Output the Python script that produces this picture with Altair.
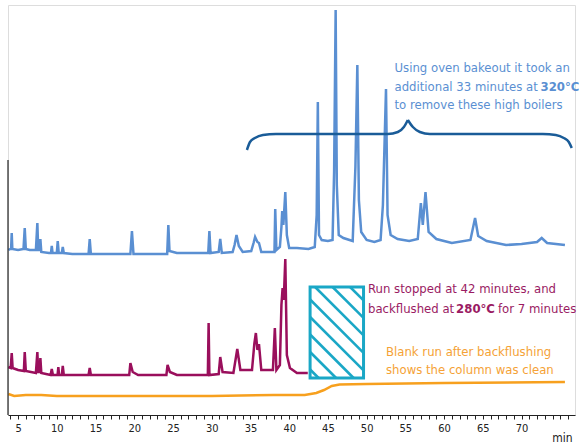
import altair as alt
import pandas as pd

# ---------------- data ----------------
# retention time (min) and detector signal (arbitrary units, chart scale)
blue_t = [3.75, 4.0, 4.1, 4.18, 4.26, 5.0, 5.7, 5.86, 6.0, 6.5, 7.3, 7.49, 7.6, 7.8, 7.88, 8.0,
          9.0, 9.25, 9.35, 9.45, 10.0, 10.12, 10.25, 10.65, 10.77, 10.9, 12.0, 14.1, 14.25, 14.4,
          19.5, 19.7, 19.9, 24.25, 24.4, 24.55, 25.5, 29.55, 29.7, 29.85, 30.9, 31.1, 31.3,
          32.7, 32.95, 33.2, 33.5, 34.0, 35.1, 35.4, 35.6, 35.9, 36.1, 36.4, 37.9, 38.1, 38.2,
          38.35, 38.8, 39.0, 39.1, 39.25, 39.5, 39.7, 40.0, 41.0, 42.5, 43.3, 43.55, 43.7, 43.85,
          44.2, 45.0, 45.6, 45.8, 46.0, 46.15, 46.4, 47.0, 48.2, 48.55, 48.8, 49.0, 49.3, 50.0,
          51.0, 51.8, 52.1, 52.5, 52.7, 53.1, 54.0, 55.5, 56.6, 57.0, 57.25, 57.6, 58.0, 59.0,
          61.0, 63.4, 64.0, 64.4, 65.5, 68.0, 70.0, 72.0, 72.6, 73.3, 75.6]
blue_v = [165, 166, 166, 182, 166, 165, 166, 187, 166, 165, 165, 192, 165, 165, 176, 163,
          162, 162, 169, 162, 162, 174, 162, 162, 168, 162, 161, 161, 176, 161,
          161, 184, 161, 161, 190, 164, 162, 162, 184, 162, 163, 176, 162,
          163, 170, 180, 169, 163, 164, 172, 178, 173, 172, 163, 163, 163, 206,
          165, 168, 188, 204, 190, 223, 180, 167, 167, 166, 168, 200, 313, 180,
          175, 174, 175, 243, 405, 230, 180, 177, 174, 248, 350, 215, 183, 175,
          173, 175, 210, 326, 200, 180, 176, 174, 176, 212, 190, 223, 183, 176,
          172, 175, 197, 179, 174, 170, 171, 173, 177, 172, 170]

magenta_t = [3.75, 4.05, 4.18, 4.3, 5.0, 5.75, 5.86, 6.0, 7.3, 7.49, 7.6, 7.8, 7.88, 8.0,
             9.2, 9.35, 9.5, 10.1, 10.2, 10.3, 10.65, 10.77, 10.9, 14.1, 14.25, 14.4,
             19.35, 19.5, 19.8, 20.5, 24.15, 24.3, 24.6, 25.5, 29.5, 29.6, 29.7, 30.9, 31.1,
             31.4, 32.8, 33.3, 33.7, 35.2, 35.5, 35.7, 35.9, 36.1, 36.4, 37.9, 38.15, 38.35,
             38.8, 39.0, 39.15, 39.3, 39.5, 39.7, 40.1, 41.0, 42.4]
magenta_v = [48, 47, 62, 47, 45, 44, 63, 44, 42, 63, 43, 43, 57, 42,
             40, 46, 40, 40, 48, 40, 40, 49, 40, 40, 47, 40,
             40, 52, 43, 40, 40, 50, 43, 40, 40, 92, 40, 41, 58,
             43, 42, 66, 45, 45, 71, 82, 65, 71, 45, 45, 87, 45,
             50, 110, 127, 115, 156, 60, 47, 42, 42]

orange_t = [3.75, 4.5, 6.0, 8.0, 10.0, 20.0, 30.0, 38.0, 42.0, 43.5, 44.5, 45.5, 46.5, 50.0, 60.0, 75.6]
orange_v = [21, 19, 20, 20, 19, 19, 19, 20, 20, 22, 25, 29, 30.5, 31, 32, 33]

series_names = ["Oven bakeout", "Backflush run", "Blank run"]
series_colors = ["#5a8fd2", "#9a0f5c", "#f7a01e"]

# brace over the high boilers (two halves meeting at the tip)
brace_t = [34.55, 34.94, 35.58, 36.61, 38.29, 52.74, 54.03, 54.81, 55.32,
           55.32, 55.97, 56.87, 58.16, 72.74, 74.42, 75.45, 76.10, 76.48]
brace_v = [265, 273, 277, 280, 281, 281, 283, 288, 295,
           295, 288, 283, 281, 281, 280, 277, 273, 267]
brace_half = [0] * 9 + [1] * 9

# backflush window box
box_t0, box_t1, box_v0, box_v1 = 42.7, 49.6, 37, 128

x_min, x_max = 3.7, 76.9
y_min, y_max = 0, 410
y_axis_top = 255
tick_values = list(range(4, 77))

FONT = "Liberation Sans Narrow, DejaVu Sans Condensed, sans-serif"
FS = 13
W, H = 567, 410
PX_PER_MIN = W / (x_max - x_min)

# ---------------- tables ----------------
traces = pd.concat([
    pd.DataFrame({"t": blue_t, "v": blue_v, "s": series_names[0]}),
    pd.DataFrame({"t": magenta_t, "v": magenta_v, "s": series_names[1]}),
    pd.DataFrame({"t": orange_t, "v": orange_v, "s": series_names[2]}),
], ignore_index=True)

brace = pd.DataFrame({"t": brace_t, "v": brace_v, "half": brace_half, "i": range(len(brace_t))})

# hatch lines (45 degrees in screen space) clipped to the box
bw = (box_t1 - box_t0) * PX_PER_MIN
bh = box_v1 - box_v0
rows = []
step = 17.5
c = -5 - 17.5 * 3
while c < bh:
    u0 = max(0.0, -c)
    u1 = min(bw, bh - c)
    if u1 > u0:
        rows.append({"t": box_t0 + u0 / PX_PER_MIN, "v": box_v1 - (u0 + c),
                     "t2": box_t0 + u1 / PX_PER_MIN, "v2": box_v1 - (u1 + c)})
    c += step
hatch = pd.DataFrame(rows)

xs = alt.Scale(domain=[x_min, x_max], nice=False, zero=False)
ys = alt.Scale(domain=[y_min, y_max], nice=False, zero=False)

base_x = alt.X("t:Q", scale=xs,
               axis=alt.Axis(values=tick_values, tickCount=200,
                             labelExpr="(datum.value % 5 == 0 && datum.value <= 70) ? datum.label : ''",
                             format="d", grid=False, tickSize=4, tickColor="#222", domainColor="#222",
                             labelOverlap=False, labelFlush=False,
                             labelFont=FONT, labelFontSize=11, labelColor="#222", labelPadding=3,
                             title="min", titleFont=FONT, titleFontSize=12, titleFontWeight="normal",
                             titleColor="#222", titleAlign="right", titleX=564, titleY=29,
                             titleBaseline="bottom"))

lines = alt.Chart(traces).mark_line(strokeWidth=2.5, interpolate="linear").encode(
    x=base_x,
    y=alt.Y("v:Q", scale=ys, axis=None),
    color=alt.Color("s:N", scale=alt.Scale(domain=series_names, range=series_colors), legend=None),
    order=alt.Order("t:Q"),
)

yaxis = alt.Chart(pd.DataFrame({"t": [x_min], "v": [0], "v2": [y_axis_top]})).mark_rule(
    color="#222", strokeWidth=1.2).encode(x=alt.X("t:Q", scale=xs), y=alt.Y("v:Q", scale=ys), y2="v2:Q")

brace_line = alt.Chart(brace).mark_line(color="#1a5c98", strokeWidth=2.5, interpolate="monotone").encode(
    x=alt.X("t:Q", scale=xs), y=alt.Y("v:Q", scale=ys), detail="half:N", order="i:Q")

box = alt.Chart(pd.DataFrame({"t": [box_t0], "t2": [box_t1], "v": [box_v0], "v2": [box_v1]})).mark_rect(
    fillOpacity=0, stroke="#1aa7c6", strokeWidth=3).encode(
    x=alt.X("t:Q", scale=xs), x2="t2:Q", y=alt.Y("v:Q", scale=ys), y2="v2:Q")

hatch_lines = alt.Chart(hatch).mark_rule(color="#1aa7c6", strokeWidth=2.5).encode(
    x=alt.X("t:Q", scale=xs), x2="t2:Q", y=alt.Y("v:Q", scale=ys), y2="v2:Q")


def label(df, color, weight="normal"):
    return alt.Chart(df).mark_text(align="left", baseline="middle", font=FONT, fontSize=FS,
                                   fontWeight=weight, color=color).encode(
        x=alt.X("t:Q", scale=xs), y=alt.Y("v:Q", scale=ys), text="txt:N")


blue_txt = pd.DataFrame({"t": [53.6, 53.6, 53.6], "v": [347, 328.5, 310],
                         "txt": ["Using oven bakeout it took an", "additional 33 minutes at",
                                 "to remove these high boilers"]})
blue_bold = pd.DataFrame({"t": [72.45], "v": [328.5], "txt": ["320°C"]})
mag_txt = pd.DataFrame({"t": [50.18, 50.18, 66.96], "v": [126, 106, 106],
                        "txt": ["Run stopped at 42 minutes, and", "backflushed at", "for 7 minutes"]})
mag_bold = pd.DataFrame({"t": [61.55], "v": [106], "txt": ["280°C"]})
org_txt = pd.DataFrame({"t": [52.5, 52.5], "v": [63, 45],
                        "txt": ["Blank run after backflushing", "shows the column was clean"]})

chart = alt.layer(
    lines, yaxis, brace_line, box, hatch_lines,
    label(blue_txt, "#5a8fd2"), label(blue_bold, "#5a8fd2", "bold"),
    label(mag_txt, "#9a1b63"), label(mag_bold, "#9a1b63", "bold"),
    label(org_txt, "#f5a236"),
).properties(
    width=W, height=H, padding={"left": 8, "top": 5, "right": 4, "bottom": 29},
    autosize=alt.AutoSizeParams(type="none"),
).configure_view(stroke=None).configure(background="white")

chart.save("out.html", embed_options={"renderer": "svg", "actions": False})
